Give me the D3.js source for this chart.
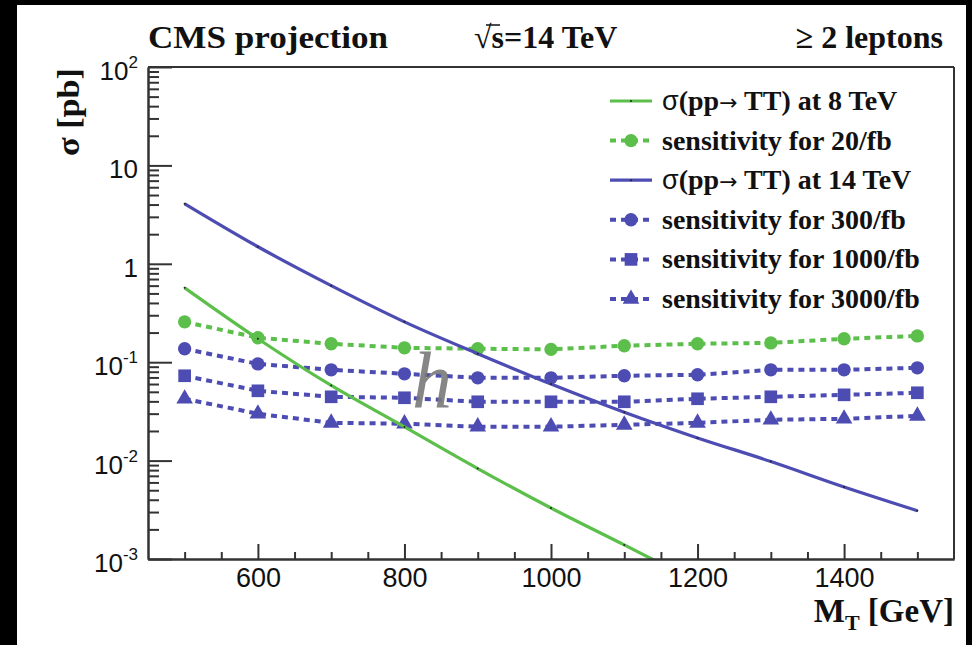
<!DOCTYPE html>
<html>
<head>
<meta charset="utf-8">
<script src="https://cdn.jsdelivr.net/npm/d3@7"></script>
<style>
  html, body { margin: 0; padding: 0; background: #000; }
  svg { display: block; }
</style>
</head>
<body>
<svg id="chart" width="972" height="645"></svg>
<script>
// ---------------- data ----------------
const massPoints = [500, 600, 700, 800, 900, 1000, 1100, 1200, 1300, 1400, 1500];
const mass8 = [500, 600, 700, 800, 900, 1000, 1100, 1200];
const xsec8TeV  = [0.57, 0.173, 0.058, 0.022, 0.0083, 0.0033, 0.00139, 0.00058];
const xsec14TeV = [4.07, 1.49, 0.60, 0.257, 0.122, 0.060, 0.031, 0.017, 0.0098, 0.0054, 0.0031];
const sens20   = [0.257, 0.177, 0.154, 0.140, 0.137, 0.135, 0.147, 0.154, 0.157, 0.173, 0.185];
const sens300  = [0.137, 0.096, 0.0837, 0.0762, 0.0694, 0.0694, 0.0728, 0.0745, 0.0837, 0.0837, 0.0877];
const sens1000 = [0.0728, 0.0512, 0.0445, 0.0435, 0.0396, 0.0396, 0.0396, 0.0425, 0.0445, 0.0466, 0.0489];
const sens3000 = [0.0425, 0.0299, 0.0242, 0.0237, 0.0221, 0.0221, 0.0231, 0.0242, 0.026, 0.0266, 0.0285];

const xMajorTicks = [600, 800, 1000, 1200, 1400];
const xTickLabels = ["600", "800", "1000", "1200", "1400"];
const yMajorTicks = [1e-3, 1e-2, 1e-1, 1, 10, 100];
const yTickBase = ["10", "10", "10", "1", "10", "10"];
const yTickExp  = ["-3", "-2", "-1", "", "", "2"];

// legend labels: [regular prefix, bold part, regular arrow, bold rest]
const legendLabels = [
  ["σ", "(pp", "→", " TT) at 8 TeV"],
  ["", "sensitivity for 20/fb", "", ""],
  ["σ", "(pp", "→", " TT) at 14 TeV"],
  ["", "sensitivity for 300/fb", "", ""],
  ["", "sensitivity for 1000/fb", "", ""],
  ["", "sensitivity for 3000/fb", "", ""]
];

// ---------------- setup ----------------
const GREEN = "#5cbf4b";
const BLUE = "#4c4cb2";
const AXIS = "#333";
const SERIF = "'Liberation Serif', 'Times New Roman', serif";
const SANS = "'Liberation Sans', Arial, sans-serif";

const svg = d3.select("#chart");
svg.append("rect").attr("width", 972).attr("height", 645).attr("fill", "#000");
svg.append("rect").attr("x", 17).attr("y", 5).attr("width", 949).attr("height", 640).attr("fill", "#fff");

const L = 148, R = 954, T = 67, B = 559;
const x = d3.scaleLinear().domain([450, 1550]).range([L, R]);
const y = d3.scaleLog().domain([1e-3, 1e2]).range([B, T]);

svg.append("clipPath").attr("id", "plotclip")
  .append("rect").attr("x", L).attr("y", T).attr("width", R - L).attr("height", B - T);

// ---------------- series ----------------
const series = [
  { name: "s20",   vals: sens20,   color: GREEN, sym: d3.symbolCircle, size: 140 },
  { name: "s300",  vals: sens300,  color: BLUE,  sym: d3.symbolCircle, size: 140 },
  { name: "s1000", vals: sens1000, color: BLUE,  sym: d3.symbolSquare, size: 160 },
  { name: "s3000", vals: sens3000, color: BLUE,  sym: d3.symbolTriangle, size: 120 }
];

const plot = svg.append("g").attr("clip-path", "url(#plotclip)");

const lineLin = d3.line().x(d => x(d[0])).y(d => y(d[1]));
const lineSmooth = d3.line().x(d => x(d[0])).y(d => y(d[1])).curve(d3.curveMonotoneX);

series.forEach(s => {
  const pts = massPoints.map((m, i) => [m, s.vals[i]]);
  plot.append("path").datum(pts)
    .attr("d", lineLin).attr("fill", "none")
    .attr("stroke", s.color).attr("stroke-width", 4)
    .attr("stroke-dasharray", "6,5");
  plot.selectAll(null).data(pts).enter().append("path")
    .attr("d", d3.symbol().type(s.sym).size(s.size))
    .attr("transform", d => `translate(${x(d[0])},${y(d[1])})`)
    .attr("fill", s.color);
});

const solid = [
  { pts: mass8.map((m, i) => [m, xsec8TeV[i]]), color: GREEN },
  { pts: massPoints.map((m, i) => [m, xsec14TeV[i]]), color: BLUE }
];
solid.forEach(s => {
  plot.append("path").datum(s.pts)
    .attr("d", lineSmooth).attr("fill", "none")
    .attr("stroke", s.color).attr("stroke-width", 3.2);
  plot.selectAll(null).data(s.pts).enter().append("circle")
    .attr("cx", d => x(d[0])).attr("cy", d => y(d[1])).attr("r", 1)
    .attr("fill", "#222");
});

// ---------------- watermark glyph ----------------
svg.append("text").attr("x", 412).attr("y", 407)
  .attr("font-family", SERIF).attr("font-style", "italic")
  .attr("font-size", 80).attr("fill", "#7a7a7a").attr("opacity", 0.9).text("h");

// ---------------- axes ----------------
const xMinor = d3.range(500, 1501, 50).filter(v => !xMajorTicks.includes(v));
const yMinor = [];
[1e-3, 1e-2, 1e-1, 1, 10].forEach(d => { for (let k = 2; k <= 9; k++) yMinor.push(d * k); });

function styleAxis(g) {
  g.select(".domain").attr("stroke", AXIS).attr("stroke-width", 2);
  g.selectAll(".tick line").attr("stroke", AXIS).attr("stroke-width", 2);
}

const gx = svg.append("g").attr("transform", `translate(0,${B})`)
  .call(d3.axisBottom(x).tickValues(xMajorTicks).tickSizeInner(-15).tickSizeOuter(0)
    .tickPadding(9).tickFormat((d, i) => xTickLabels[i]));
styleAxis(gx);
gx.selectAll(".tick text").attr("font-family", SANS).attr("font-size", 27).attr("fill", "#111");

const gxm = svg.append("g").attr("transform", `translate(0,${B})`)
  .call(d3.axisBottom(x).tickValues(xMinor).tickSizeInner(-7).tickSizeOuter(0).tickFormat(""));
styleAxis(gxm);

const gy = svg.append("g").attr("transform", `translate(${L},0)`)
  .call(d3.axisLeft(y).tickValues(yMajorTicks).tickSizeInner(-24).tickSizeOuter(0).tickFormat(""));
styleAxis(gy);
const gym = svg.append("g").attr("transform", `translate(${L},0)`)
  .call(d3.axisLeft(y).tickValues(yMinor).tickSizeInner(-11).tickSizeOuter(0).tickFormat(""));
styleAxis(gym);

// y tick labels with superscripts
yMajorTicks.forEach((v, i) => {
  const t = svg.append("text").attr("x", 138).attr("y", y(v) + 13)
    .attr("text-anchor", "end").attr("font-family", SANS).attr("font-size", 26).attr("fill", "#111");
  t.append("tspan").text(yTickBase[i]);
  if (yTickExp[i]) {
    t.append("tspan").attr("font-size", 17).attr("dy", -12).text(yTickExp[i]);
  }
});

// frame top & right
svg.append("line").attr("x1", L).attr("x2", R).attr("y1", T).attr("y2", T)
  .attr("stroke", AXIS).attr("stroke-width", 2);
svg.append("line").attr("x1", R).attr("x2", R).attr("y1", T).attr("y2", B)
  .attr("stroke", AXIS).attr("stroke-width", 2);

// ---------------- header ----------------
svg.append("text").attr("x", 148).attr("y", 48)
  .attr("font-family", SERIF).attr("font-weight", "bold").attr("font-size", 32)
  .attr("textLength", 240).attr("lengthAdjust", "spacingAndGlyphs")
  .attr("fill", "#111").text("CMS projection");

const hs = svg.append("text").attr("x", 474).attr("y", 48)
  .attr("font-family", SERIF).attr("font-size", 32).attr("fill", "#111");
hs.append("tspan").text("√");
hs.append("tspan").attr("font-weight", "bold").text("s=14 TeV");
svg.append("line").attr("x1", 486).attr("x2", 500).attr("y1", 25).attr("y2", 25)
  .attr("stroke", "#111").attr("stroke-width", 1.5);

svg.append("text").attr("x", 943).attr("y", 48).attr("text-anchor", "end")
  .attr("font-family", SERIF).attr("font-weight", "bold").attr("font-size", 32)
  .attr("fill", "#111").text("≥ 2 leptons");

// axis titles
svg.append("text").attr("transform", "translate(79,68) rotate(-90)")
  .attr("text-anchor", "end").attr("font-family", SERIF).attr("font-weight", "bold")
  .attr("font-size", 31).attr("textLength", 88).attr("lengthAdjust", "spacingAndGlyphs")
  .attr("fill", "#111").text("σ [pb]");

const xt = svg.append("text").attr("x", 954).attr("y", 622).attr("text-anchor", "end")
  .attr("font-family", SERIF).attr("font-weight", "bold").attr("font-size", 33).attr("fill", "#111");
xt.append("tspan").text("M");
xt.append("tspan").attr("font-size", 22).attr("dy", 8).text("T");
xt.append("tspan").attr("dy", -8).text(" [GeV]");

// ---------------- legend ----------------
const legendStyles = [
  { color: GREEN, dashed: false, sym: null },
  { color: GREEN, dashed: true, sym: d3.symbolCircle, size: 140 },
  { color: BLUE, dashed: false, sym: null },
  { color: BLUE, dashed: true, sym: d3.symbolCircle, size: 140 },
  { color: BLUE, dashed: true, sym: d3.symbolSquare, size: 160 },
  { color: BLUE, dashed: true, sym: d3.symbolTriangle, size: 120 }
];
const leg = svg.append("g");
legendLabels.forEach((lab, i) => {
  const st = legendStyles[i];
  const cy = 101 + i * 39.6;
  leg.append("line").attr("x1", 610).attr("x2", 652).attr("y1", cy).attr("y2", cy)
    .attr("stroke", st.color).attr("stroke-width", st.dashed ? 4 : 3.2)
    .attr("stroke-dasharray", st.dashed ? "6,5" : null);
  if (st.sym) {
    leg.append("path").attr("d", d3.symbol().type(st.sym).size(st.size))
      .attr("transform", `translate(631,${cy})`).attr("fill", st.color);
  } else {
    leg.append("circle").attr("cx", 631).attr("cy", cy).attr("r", 1).attr("fill", "#222");
  }
  const t = leg.append("text").attr("x", 662).attr("y", cy + 9)
    .attr("font-family", SERIF).attr("font-size", 28).attr("fill", "#111");
  if (lab[0]) t.append("tspan").attr("font-family", SANS).attr("font-size", 27).text(lab[0]);
  t.append("tspan").attr("font-weight", "bold").text(lab[1]);
  if (lab[2]) t.append("tspan").attr("font-family", "'DejaVu Sans', sans-serif").attr("font-size", 22).text(lab[2]);
  if (lab[3]) t.append("tspan").attr("font-weight", "bold").text(lab[3]);
});
</script>
</body>
</html>
